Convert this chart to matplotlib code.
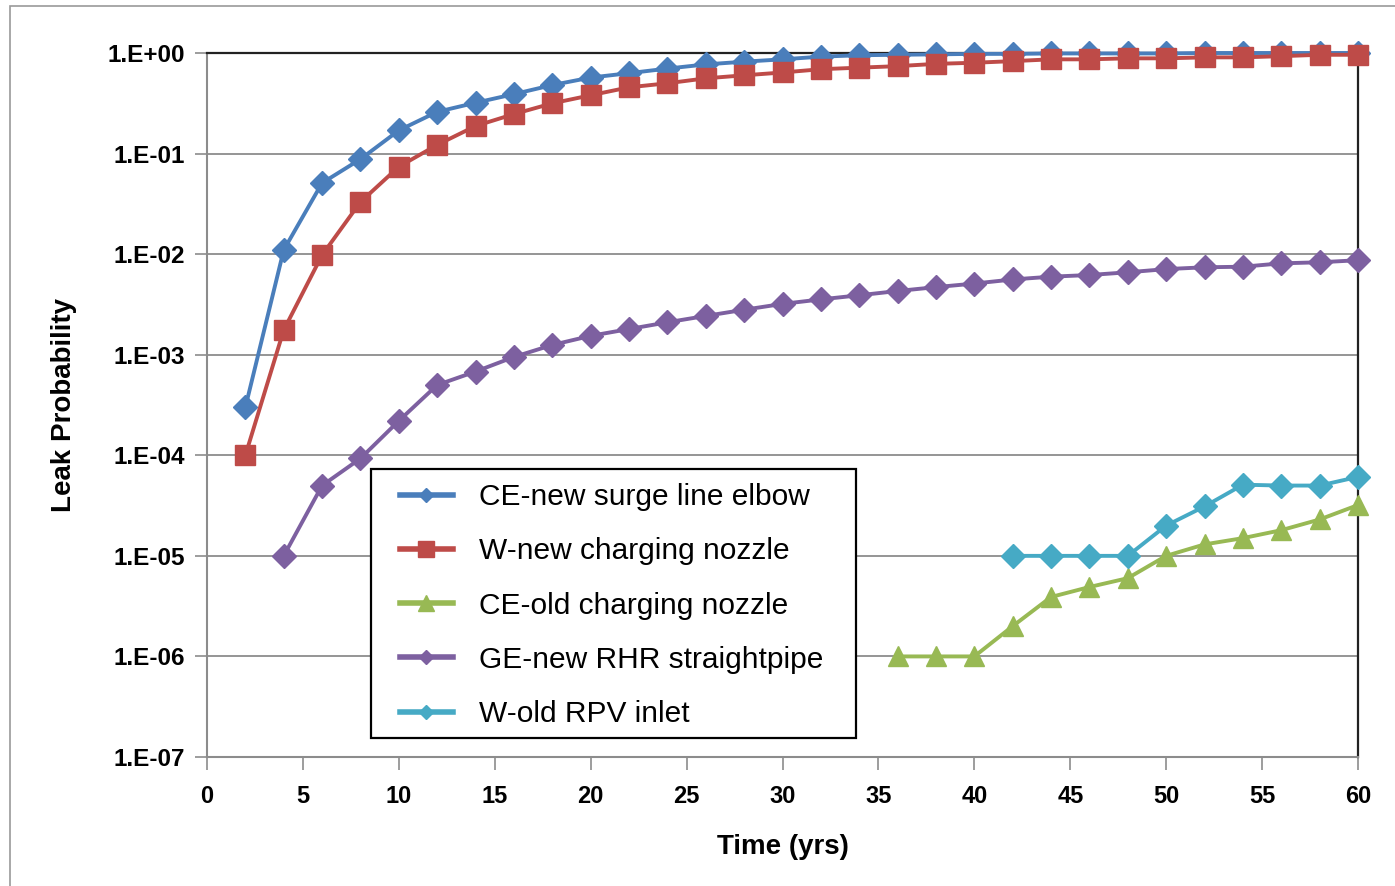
import matplotlib
matplotlib.use("Agg")
import matplotlib.pyplot as plt
from matplotlib.patches import Rectangle
from matplotlib.lines import Line2D
from matplotlib.ticker import FixedLocator, NullLocator

plt.rcParams['font.family'] = ['Liberation Sans', 'DejaVu Sans']

# ---- data ----
years_ce_new = list(range(2, 61, 2))
ce_new_surge = [3.0e-4, 1.1e-2, 5.1e-2, 8.8e-2, 0.17, 0.26, 0.32, 0.39, 0.48, 0.57,
                0.63, 0.70, 0.77, 0.82, 0.865, 0.92, 0.95, 0.96, 0.97, 0.98,
                0.98, 0.99, 0.99, 0.99, 0.99, 1.0, 1.0, 1.0, 1.0, 1.0]

years_w_new = list(range(2, 61, 2))
w_new_charging = [1.0e-4, 1.76e-3, 9.8e-3, 0.033, 0.074, 0.122, 0.188, 0.247, 0.316, 0.38,
                  0.456, 0.50, 0.56, 0.60, 0.64, 0.69, 0.715, 0.74, 0.78, 0.80,
                  0.83, 0.865, 0.865, 0.885, 0.885, 0.905, 0.905, 0.93, 0.96, 0.96]

years_ce_old = list(range(36, 61, 2))
ce_old_charging = [1e-6, 1e-6, 1e-6, 2.0e-6, 3.9e-6, 4.9e-6, 6.0e-6, 1.0e-5, 1.3e-5,
                   1.5e-5, 1.8e-5, 2.3e-5, 3.2e-5]

years_ge_new = list(range(4, 61, 2))
ge_new_rhr = [1.0e-5, 5.0e-5, 9.3e-5, 2.2e-4, 5.0e-4, 6.8e-4, 9.5e-4, 1.25e-3, 1.54e-3, 1.8e-3,
              2.1e-3, 2.43e-3, 2.8e-3, 3.2e-3, 3.55e-3, 3.9e-3, 4.3e-3, 4.7e-3, 5.1e-3, 5.6e-3,
              5.97e-3, 6.2e-3, 6.6e-3, 7.1e-3, 7.4e-3, 7.5e-3, 8.1e-3, 8.3e-3, 8.7e-3]

years_w_old = list(range(42, 61, 2))
w_old_rpv = [1e-5, 1e-5, 1e-5, 1e-5, 2.0e-5, 3.1e-5, 5.1e-5, 5.0e-5, 5.0e-5, 6.1e-5]

labels = ["CE-new surge line elbow", "W-new charging nozzle", "CE-old charging nozzle",
          "GE-new RHR straightpipe", "W-old RPV inlet"]
colors = ["#4A7EBB", "#BE4B48", "#98B954", "#7D60A0", "#46AAC5"]

x_ticks = list(range(0, 61, 5))
y_ticks = [1e-7, 1e-6, 1e-5, 1e-4, 1e-3, 1e-2, 1e-1, 1e0]
y_tick_labels = ["1.E-07", "1.E-06", "1.E-05", "1.E-04", "1.E-03", "1.E-02", "1.E-01", "1.E+00"]

# ---- figure ----
W, H = 1395, 886
fig = plt.figure(figsize=(W / 100, H / 100), dpi=100)
ax = fig.add_axes([207 / W, 1 - 757 / H, (1358 - 207) / W, (757 - 53) / H])

# outer border
fig.patches.append(Rectangle((10 / W, -0.05), 1.1, 1.05 - 6 / H, transform=fig.transFigure,
                             fill=False, edgecolor="#9a9a9a", linewidth=1.2))

lw = 2.8
ax.plot(years_ce_new, ce_new_surge, color=colors[0], marker='D', ms=12, lw=lw,
        clip_on=False, zorder=3)
ax.plot(years_w_new, w_new_charging, color=colors[1], marker='s', ms=14.3, lw=lw,
        clip_on=False, zorder=4)
ax.plot(years_ce_old, ce_old_charging, color=colors[2], marker='^', ms=14, lw=lw,
        clip_on=False, zorder=3)
ax.plot(years_ge_new, ge_new_rhr, color=colors[3], marker='D', ms=12, lw=lw,
        clip_on=False, zorder=3)
ax.plot(years_w_old, w_old_rpv, color=colors[4], marker='D', ms=12, lw=lw,
        clip_on=False, zorder=3)

ax.set_yscale('log')
ax.set_ylim(1e-7, 1e0)
ax.set_xlim(0, 60)
ax.xaxis.set_major_locator(FixedLocator(x_ticks))
ax.yaxis.set_major_locator(FixedLocator(y_ticks))
ax.yaxis.set_minor_locator(NullLocator())
ax.set_yticklabels(y_tick_labels)
ax.set_xticklabels([str(t) for t in x_ticks])

for lab in ax.get_xticklabels() + ax.get_yticklabels():
    lab.set_fontweight('bold')
ax.tick_params(axis='y', labelsize=17.5, length=9, width=1.2, color="#8c8c8c", pad=7, direction='out')
ax.tick_params(axis='x', labelsize=17, length=9, width=1.2, color="#8c8c8c", pad=11, direction='out')

ax.grid(axis='y', color="#8c8c8c", linewidth=1.3)
ax.set_axisbelow(True)
ax.spines['left'].set_color("#8c8c8c")
ax.spines['bottom'].set_color("#8c8c8c")
ax.spines['left'].set_linewidth(1.5)
ax.spines['bottom'].set_linewidth(1.5)
ax.spines['top'].set_color("#222222")
ax.spines['right'].set_color("#222222")
ax.spines['top'].set_linewidth(1.6)
ax.spines['right'].set_linewidth(1.6)

ax.set_xlabel("Time (yrs)", fontsize=20, fontweight='bold', labelpad=19)
ax.set_ylabel("Leak Probability", fontsize=20, fontweight='bold', labelpad=22)

# legend box (pixel coords -> axes fraction)
def ax_frac(px, py):
    return (px - 207) / 1151, (757 - py) / 704

bx0, by0 = ax_frac(371, 738)
bx1, by1 = ax_frac(856, 469)
ax.add_patch(Rectangle((bx0, by0), bx1 - bx0, by1 - by0, transform=ax.transAxes,
                       facecolor="white", edgecolor="black", linewidth=1.6, zorder=9,
                       clip_on=False))

handles = [
    Line2D([], [], color=colors[0], marker='D', ms=7.5, lw=4),
    Line2D([], [], color=colors[1], marker='s', ms=12, lw=4),
    Line2D([], [], color=colors[2], marker='^', ms=11, lw=4),
    Line2D([], [], color=colors[3], marker='D', ms=7.5, lw=4),
    Line2D([], [], color=colors[4], marker='D', ms=7.5, lw=4),
]
lx, ly = ax_frac(400, 483)
leg = ax.legend(handles=handles, labels=labels, loc='upper left',
                bbox_to_anchor=(lx, ly), borderaxespad=0, borderpad=0,
                fontsize=21.5, frameon=False,
                handlelength=1.77, handletextpad=0.87, labelspacing=0.88)
leg.set_zorder(10)

fig.savefig("out.png", dpi=100)
